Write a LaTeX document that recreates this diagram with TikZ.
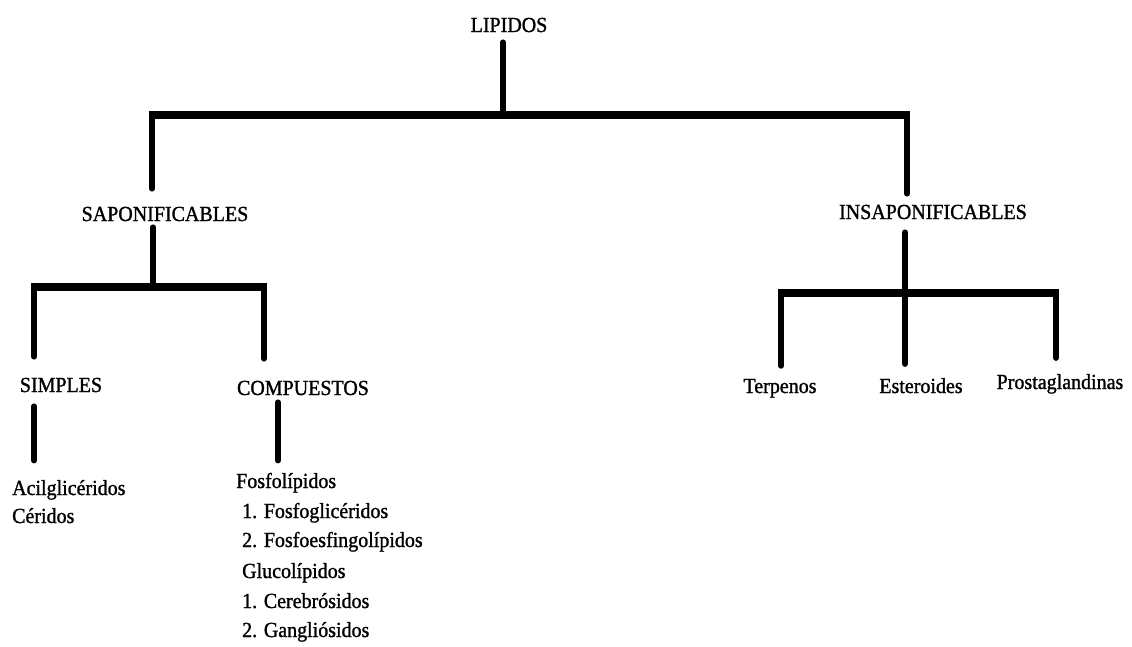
\documentclass[tikz,border=0pt]{standalone}
\usepackage{fontspec}
\setmainfont{Liberation Serif}[FakeStretch=0.93,FakeBold=1.2]
\usetikzlibrary{calc}
\begin{document}
\begin{tikzpicture}[x=1pt,y=-1pt,
  lbl/.style={inner sep=0pt, font=\fontsize{21.5}{26}\selectfont},
  conn/.style={line width=6pt, line cap=round},
  hbar/.style={line width=8pt, line cap=butt}]
\useasboundingbox (0,0) rectangle (1132,646);
% headings
\node[lbl,anchor=base] (lip) at (509,32) {LIPIDOS};
\node[lbl,anchor=base] (sap) at (165,221) {SAPONIFICABLES};
\node[lbl,anchor=base] (ins) at (933,219) {INSAPONIFICABLES};
\node[lbl,anchor=base] (sim) at (61,392) {SIMPLES};
\node[lbl,anchor=base] (com) at (303,395) {COMPUESTOS};
\node[lbl,anchor=base] (ter) at (780,393) {Terpenos};
\node[lbl,anchor=base] (est) at (921,393) {Esteroides};
\node[lbl,anchor=base] (pro) at (1060,389) {Prostaglandinas};
% lists
\node[lbl,anchor=base west] (a1) at (12,495) {Acilglicéridos};
\node[lbl,anchor=base west] (a2) at (12,523) {Céridos};
\node[lbl,anchor=base west] (f1) at (236,488) {Fosfolípidos};
\node[lbl,anchor=base west] (f2) at (242,518) {1. Fosfoglicéridos};
\node[lbl,anchor=base west] (f3) at (242,547) {2. Fosfoesfingolípidos};
\node[lbl,anchor=base west] (f4) at (242,578) {Glucolípidos};
\node[lbl,anchor=base west] (f5) at (242,608) {1. Cerebrósidos};
\node[lbl,anchor=base west] (f6) at (242,637) {2. Gangliósidos};
% junctions
\coordinate (t0) at (503,115);
\coordinate (tl) at (152,115);
\coordinate (tr) at (907,115);
\coordinate (s0) at (153,287);
\coordinate (sl) at (34,287);
\coordinate (sr) at (264,287);
\coordinate (i0) at (905,293);
\coordinate (il) at (781,293);
\coordinate (ir) at (1056,293);
% level 1
\draw[conn] ($(lip.south)+(-6,10)$) -- (t0);
\draw[hbar] ($(tl)+(-3,0)$) -- ($(tr)+(3,0)$);
\draw[conn] (tl) -- ($(sap.north)+(-13,-18)$);
\draw[conn] (tr) -- ($(ins.north)+(-26,-11)$);
% saponificables
\draw[conn] ($(sap.south)+(-12,6)$) -- (s0);
\draw[hbar] ($(sl)+(-3,0)$) -- ($(sr)+(3,0)$);
\draw[conn] (sl) -- ($(sim.north)+(-27,-21)$);
\draw[conn] (sr) -- ($(com.north)+(-39,-22)$);
\draw[conn] ($(sim.south)+(-27,14)$) -- ($(sim.south)+(-27,68)$);
\draw[conn] ($(com.south)+(-25,7)$) -- ($(com.south)+(-25,65)$);
% insaponificables
\draw[conn] ($(ins.south)+(-28,13)$) -- (i0);
\draw[hbar] ($(il)+(-3,0)$) -- ($(ir)+(3,0)$);
\draw[conn] (il) -- ($(ter.north)+(1,-13)$);
\draw[conn] (i0) -- ($(est.north)+(-16,-14)$);
\draw[conn] (ir) -- ($(pro.north)+(-4,-16)$);
\end{tikzpicture}
\end{document}
